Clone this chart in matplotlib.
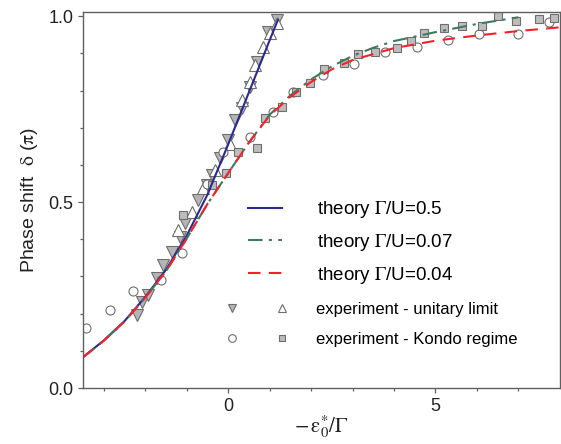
import matplotlib
matplotlib.use("Agg")
import matplotlib.pyplot as plt
from matplotlib.lines import Line2D
from matplotlib.legend_handler import HandlerTuple

plt.rcParams['font.family'] = ['Liberation Sans', 'DejaVu Sans']
plt.rcParams['mathtext.fontset'] = 'stix'

# theory curves
x_05 = [-3.5, -3.0, -2.5, -2.0, -1.5, -1.0, -0.5, 0.0, 0.5, 1.0, 1.2]
y_05 = [0.083, 0.128, 0.18, 0.245, 0.318, 0.41, 0.52, 0.655, 0.795, 0.935, 0.99]

x_007 = [-3.5, -3.0, -2.5, -2.0, -1.5, -1.0, -0.5, 0.0, 0.5, 1.0, 1.5, 2.0, 2.5, 3.0, 3.5, 4.0, 5.0, 6.0, 7.0]
y_007 = [0.083, 0.127, 0.179, 0.243, 0.314, 0.402, 0.495, 0.578, 0.66, 0.735, 0.787, 0.83, 0.865, 0.893,
         0.915, 0.933, 0.957, 0.979, 0.997]

x_004 = [-3.5, -3.0, -2.5, -2.0, -1.5, -1.0, -0.5, 0.0, 0.5, 1.0, 1.5, 2.0, 2.5, 3.0, 4.0, 5.0, 6.0, 7.0, 8.0]
y_004 = [0.083, 0.127, 0.179, 0.243, 0.314, 0.402, 0.495, 0.578, 0.66, 0.733, 0.783, 0.823, 0.857, 0.882,
         0.914, 0.934, 0.948, 0.96, 0.97]

# experiment - unitary limit
x_down = [-2.2, -2.08, -1.93, -1.71, -1.57, -1.35, -1.16, -1.04, -0.72, -0.51, -0.39, -0.19, 0.0, 0.17,
          0.34, 0.53, 0.70, 0.97, 1.18]
y_down = [0.196, 0.231, 0.25, 0.296, 0.331, 0.366, 0.406, 0.444, 0.505, 0.546, 0.573, 0.618, 0.667, 0.72,
          0.753, 0.81, 0.876, 0.957, 0.99]
x_up = [-1.2, -0.87, -0.6, -0.31, 0.05, 0.34, 0.53, 0.65, 0.85, 1.0, 1.18]
y_up = [0.425, 0.474, 0.537, 0.586, 0.655, 0.774, 0.823, 0.868, 0.917, 0.954, 0.981]

# experiment - Kondo regime
x_circ = [-3.43, -2.85, -2.3, -1.62, -1.11, -0.5, -0.12, 0.53, 1.09, 1.57, 2.29, 3.04, 3.79, 4.56, 5.31,
          6.06, 7.0, 7.73]
y_circ = [0.161, 0.21, 0.261, 0.29, 0.363, 0.55, 0.634, 0.675, 0.742, 0.796, 0.841, 0.871, 0.903, 0.917,
          0.935, 0.952, 0.952, 0.984]
x_sq = [-1.09, -0.39, -0.05, 0.24, 0.70, 0.89, 1.3, 1.64, 1.98, 2.32, 2.8, 3.12, 3.55, 4.08, 4.42, 4.73,
        5.2, 5.65, 6.13, 6.5, 6.93, 7.49, 7.87]
y_sq = [0.465, 0.546, 0.578, 0.635, 0.645, 0.725, 0.755, 0.795, 0.82, 0.857, 0.873, 0.898, 0.903, 0.914,
        0.933, 0.954, 0.967, 0.973, 0.973, 1.0, 0.987, 0.992, 0.995]

edge = '#6e6e6e'
down_kw = dict(ls='none', marker='v', mfc='#b5b5b5', mec=edge, mew=0.8)
up_kw = dict(ls='none', marker='^', mfc='white', mec=edge, mew=0.8)
circ_kw = dict(ls='none', marker='o', mfc='white', mec=edge, mew=0.8)
sq_kw = dict(ls='none', marker='s', mfc='#bdbdbd', mec=edge, mew=0.8)

fig = plt.figure(figsize=(5.61, 4.44), dpi=100)
ax = fig.add_axes([0.148, 0.126, 0.850, 0.846])

ax.plot(x_down, y_down, ms=8, zorder=2, **down_kw)
ax.plot(x_up, y_up, ms=8, zorder=2, **up_kw)
ax.plot(x_circ, y_circ, ms=6.5, zorder=2, **circ_kw)
ax.plot(x_sq, y_sq, ms=6, zorder=2, **sq_kw)

l1, = ax.plot(x_05, y_05, color='#2a2a90', lw=1.5, zorder=3)
l2, = ax.plot(x_007, y_007, color='#3f7a5c', lw=1.5, dashes=(7, 3, 1.5, 3), zorder=3)
l3, = ax.plot(x_004, y_004, color='#f5202a', lw=1.5, dashes=(6, 4), zorder=4)

ax.set_xlim(-3.5, 8.0)
ax.set_ylim(0, 1.01)
ax.set_xticks([0, 5])
ax.set_xticks([-3, -2, -1, 1, 2, 3, 4, 6, 7], minor=True)
ax.set_yticks([0, 0.5, 1.0])
ax.set_yticklabels(['0.0', '0.5', '1.0'])
ax.set_yticks([0.1, 0.2, 0.3, 0.4, 0.6, 0.7, 0.8, 0.9], minor=True)
ax.tick_params(which='both', direction='out', color='#606060', labelsize=13, labelcolor='#222222')
ax.tick_params(which='major', length=3.5, width=0.9)
ax.tick_params(which='minor', length=2.5, width=0.9)
for s in ax.spines.values():
    s.set_color('#606060')
    s.set_linewidth(1.0)

ax.set_xlabel(r'$-\,\mathrm{\varepsilon}_0^{*}/\Gamma$', fontsize=15, color='#222222', labelpad=-1)
ax.set_ylabel(r'Phase shift  $\mathrm{\delta}$ ($\mathrm{\pi}$)', fontsize=14, color='#222222', labelpad=6)

leg1 = ax.legend([l1, l2, l3],
                 [r'theory $\Gamma$/U=0.5', r'theory $\Gamma$/U=0.07', r'theory $\Gamma$/U=0.04'],
                 loc='upper left', bbox_to_anchor=(0.346, 0.503), frameon=False, fontsize=13.5,
                 handlelength=1.8, handletextpad=1.9, labelspacing=0.63, borderpad=0, borderaxespad=0)
ax.add_artist(leg1)

# legend markers are a bit smaller than the plotted ones
h_down = Line2D([], [], ms=6, **down_kw)
h_up = Line2D([], [], ms=6, **up_kw)
h_circ = Line2D([], [], ms=5.5, **circ_kw)
h_sq = Line2D([], [], ms=5, **sq_kw)
leg2 = ax.legend([(h_down, h_up), (h_circ, h_sq)],
                 ['experiment - unitary limit', 'experiment - Kondo regime'],
                 handler_map={tuple: HandlerTuple(ndivide=None, pad=2.63)},
                 loc='upper left', bbox_to_anchor=(0.306, 0.229), frameon=False, fontsize=12,
                 handlelength=3.35, handletextpad=1.9, labelspacing=0.88, borderpad=0, borderaxespad=0)

fig.savefig('out.png', dpi=100)
